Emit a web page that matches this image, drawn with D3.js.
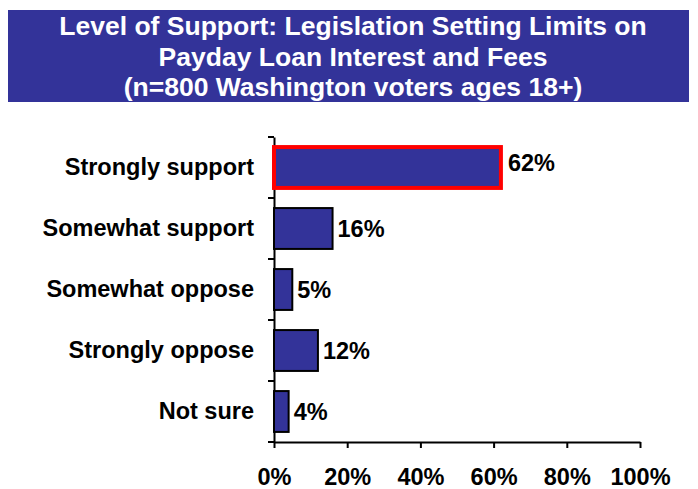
<!DOCTYPE html>
<html><head><meta charset="utf-8">
<script src="https://cdn.jsdelivr.net/npm/d3@7"></script>
<style>body{margin:0;background:#fff;} svg{display:block;}</style>
</head><body>
<script>
const categories = ["Strongly support","Somewhat support","Somewhat oppose","Strongly oppose","Not sure"];
const values = [62,16,5,12,4];
const tickValues = [0,20,40,60,80,100];
const titleLines = ["Level of Support: Legislation Setting Limits on","Payday Loan Interest and Fees","(n=800 Washington voters ages 18+)"];

const W=698,H=489;
const svg=d3.select("body").append("svg").attr("width",W).attr("height",H);
const font="'Liberation Sans', Arial, sans-serif";
const fs=23.5;

svg.append("rect").attr("x",8).attr("y",10).attr("width",681).attr("height",92).attr("fill","#333399");
svg.append("g").selectAll("text").data(titleLines).join("text")
  .attr("x",353).attr("y",(d,i)=>35+i*30.5)
  .attr("text-anchor","middle").attr("fill","#fff")
  .attr("font-family",font).attr("font-weight","bold").attr("font-size",26.5)
  .text(d=>d);

const x=d3.scaleLinear().domain([0,100]).range([274,640]);
const y=d3.scaleBand().domain(categories).range([137,442]).paddingInner(0.33).paddingOuter(0.165);

const xAxis=svg.append("g").attr("transform","translate(0,442)")
  .call(d3.axisBottom(x).tickValues(tickValues).tickFormat(d=>d+"%").tickSize(6).tickSizeOuter(0));
xAxis.select(".domain").attr("stroke","#000").attr("stroke-width",2);
xAxis.selectAll(".tick line").attr("stroke","#000").attr("stroke-width",2);
xAxis.selectAll(".tick text").attr("font-family",font).attr("font-weight","bold").attr("font-size",fs).attr("fill","#000")
  .attr("y",43).attr("dy",0);

const yAxis=svg.append("g").attr("transform","translate(274,0)")
  .call(d3.axisLeft(y).tickSize(0).tickPadding(20).tickSizeOuter(0));
yAxis.select(".domain").attr("stroke","#000").attr("stroke-width",2);
yAxis.selectAll(".tick text").attr("font-family",font).attr("font-weight","bold").attr("font-size",fs).attr("fill","#000").attr("dy","0.3em");
const step=y.step();
const bounds=d3.range(categories.length+1).map(i=>y.range()[0]+i*step);
svg.append("g").selectAll("line").data(bounds).join("line")
  .attr("x1",268).attr("x2",274).attr("y1",d=>d).attr("y2",d=>d)
  .attr("stroke","#000").attr("stroke-width",2);

svg.append("g").selectAll("rect").data(values).join("rect")
  .attr("x",x(0)).attr("y",(d,i)=>y(categories[i]))
  .attr("width",d=>x(d)-x(0)).attr("height",y.bandwidth())
  .attr("fill","#333399")
  .attr("stroke",(d,i)=>i===0?"#ff0000":"#000")
  .attr("stroke-width",(d,i)=>i===0?4:2);

svg.append("g").selectAll("text").data(values).join("text")
  .attr("x",(d,i)=>x(d)+(i===0?7:5)).attr("y",(d,i)=>y(categories[i])+y.bandwidth()/2+(i===0?-5:0))
  .attr("dy","0.38em")
  .attr("font-family",font).attr("font-weight","bold").attr("font-size",fs).attr("fill","#000")
  .text(d=>d+"%");
</script>
</body></html>
